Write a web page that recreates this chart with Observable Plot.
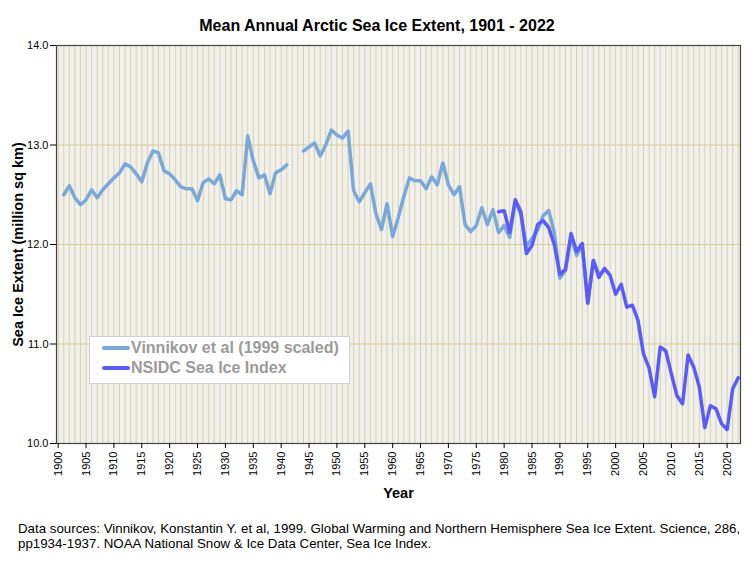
<!DOCTYPE html>
<html><head><meta charset="utf-8">
<script src="https://cdn.jsdelivr.net/npm/d3@7"></script>
<script src="https://cdn.jsdelivr.net/npm/@observablehq/plot@0.6"></script>
<style>
body{margin:0;background:#fff;font-family:"Liberation Sans",Arial,sans-serif;}
#wrap{position:relative;width:754px;height:564px;overflow:hidden;}
#title{position:absolute;top:16px;left:0;width:754px;text-align:center;font-weight:bold;font-size:16px;line-height:20px;color:#000;}
#chart{position:absolute;top:38px;left:0;}
#caption{position:absolute;left:18px;top:521px;font-size:13.3px;line-height:15px;width:740px;color:#000;white-space:nowrap;}
#legend{position:absolute;left:89px;top:336px;width:261px;height:48px;background:#fff;border:1px solid #d0d0d0;box-sizing:border-box;}
#legend .item{position:absolute;left:0;height:20px;line-height:20px;font-weight:bold;font-size:16px;color:#9a9a9a;white-space:nowrap;}
#legend .sw{position:absolute;left:12px;top:8px;width:28px;height:3.5px;border-radius:2px;}
#legend .lab{position:absolute;left:41px;top:0;}
#chart g[aria-label="x-axis label"], #chart g[aria-label="y-axis label"]{font-weight:bold;font-size:14.5px;}
</style>
</head><body>
<div id="wrap">
  <div id="title">Mean Annual Arctic Sea Ice Extent, 1901 - 2022</div>
  <div id="chart"></div>
  <div id="legend"></div>
  <div id="caption">Data sources: Vinnikov, Konstantin Y. et al, 1999. Global Warming and Northern Hemisphere Sea Ice Extent. Science, 286,<br>pp1934-1937. NOAA National Snow &amp; Ice Data Center, Sea Ice Index.</div>
</div>
<script>
// Vinnikov et al (1999, scaled), 1901-1998 (1942-1943 missing)
const vinnikovYears = [
  1901,1902,1903,1904,1905,1906,1907,1908,1909,1910,
  1911,1912,1913,1914,1915,1916,1917,1918,1919,1920,
  1921,1922,1923,1924,1925,1926,1927,1928,1929,1930,
  1931,1932,1933,1934,1935,1936,1937,1938,1939,1940,
  1941,1942,1943,1944,1945,1946,1947,1948,1949,1950,
  1951,1952,1953,1954,1955,1956,1957,1958,1959,1960,
  1961,1962,1963,1964,1965,1966,1967,1968,1969,1970,
  1971,1972,1973,1974,1975,1976,1977,1978,1979,1980,
  1981,1982,1983,1984,1985,1986,1987,1988,1989,1990,
  1991,1992,1993,1994,1995,1996,1997,1998];
const vinnikovValues = [
  12.50,12.59,12.47,12.40,12.45,12.55,12.47,12.55,12.61,12.67,
  12.72,12.81,12.78,12.71,12.63,12.82,12.94,12.92,12.74,12.71,
  12.65,12.58,12.56,12.56,12.44,12.62,12.66,12.61,12.70,12.46,
  12.45,12.54,12.50,13.09,12.84,12.67,12.70,12.51,12.72,12.75,
  12.80,null,null,12.94,12.98,13.02,12.89,13.00,13.15,13.10,
  13.07,13.14,12.54,12.43,12.52,12.61,12.31,12.15,12.41,12.08,
  12.27,12.48,12.67,12.64,12.64,12.56,12.68,12.60,12.82,12.60,
  12.50,12.58,12.20,12.13,12.19,12.37,12.20,12.35,12.12,12.19,
  12.07,12.44,12.30,11.98,12.06,12.14,12.29,12.34,12.12,11.66,
  11.74,12.08,11.89,12.00,11.42,11.84,11.70,11.74];
// NSIDC Sea Ice Index, 1979-2022
const nsidcYears = [
  1979,1980,1981,1982,1983,1984,1985,1986,1987,1988,
  1989,1990,1991,1992,1993,1994,1995,1996,1997,1998,
  1999,2000,2001,2002,2003,2004,2005,2006,2007,2008,
  2009,2010,2011,2012,2013,2014,2015,2016,2017,2018,
  2019,2020,2021,2022];
const nsidcValues = [
  12.33,12.34,12.12,12.45,12.33,11.91,11.99,12.20,12.24,12.17,
  12.00,11.70,11.75,12.11,11.93,12.01,11.41,11.84,11.67,11.76,
  11.69,11.50,11.60,11.37,11.39,11.24,10.90,10.76,10.47,10.97,
  10.93,10.70,10.48,10.40,10.89,10.77,10.57,10.16,10.38,10.35,
  10.20,10.14,10.55,10.66];
const seriesNames = ["Vinnikov et al (1999 scaled)", "NSIDC Sea Ice Index"];
const seriesColors = ["#7ba8d9", "#5b5bfb"];
const xTicks = [1900,1905,1910,1915,1920,1925,1930,1935,1940,1945,1950,1955,1960,1965,1970,1975,1980,1985,1990,1995,2000,2005,2010,2015,2020];
const yTicks = [10,11,12,13,14];
const gridYears = d3.range(1900, 2023);
const gridValues = [11,12,13];

const vin = vinnikovYears.map((y,i)=>({year:y, value:vinnikovValues[i]}));
const nsidc = nsidcYears.map((y,i)=>({year:y, value:nsidcValues[i]}));

const chart = Plot.plot({
  width: 754,
  height: 467,
  marginTop: 7,
  marginBottom: 62,
  marginLeft: 56,
  marginRight: 14,
  style: {fontFamily: '"Liberation Sans", Arial, sans-serif', fontSize: "11px", color: "#000", background: "transparent"},
  x: {domain: [1899.7, 2022.4]},
  y: {domain: [10, 14]},
  marks: [
    Plot.frame({fill: "#f0f0f0", stroke: null}),
    Plot.ruleX(gridYears, {stroke: "#dbd39c", strokeWidth: 1}),
    Plot.ruleY(gridValues, {stroke: "#d8cf94", strokeWidth: 1}),
    Plot.line(vin, {x: "year", y: "value", stroke: seriesColors[0], strokeWidth: 3.5, strokeLinejoin: "round", strokeLinecap: "round"}),
    Plot.line(nsidc, {x: "year", y: "value", stroke: seriesColors[1], strokeWidth: 3.5, strokeLinejoin: "round", strokeLinecap: "round"}),
    Plot.frame({stroke: "#444", strokeWidth: 1.2}),
    Plot.axisX({ticks: xTicks, tickFormat: d => String(d), tickRotate: -90, tickSize: 5, tickPadding: 3, fontSize: 11,
      label: "Year", labelAnchor: "center", labelOffset: 54, labelArrow: "none"}),
    Plot.axisY({ticks: yTicks, tickFormat: d3.format(".1f"), tickSize: 6, tickPadding: 2, fontSize: 11,
      label: "Sea Ice Extent (million sq km)", labelAnchor: "center", labelOffset: 44, labelArrow: "none"})
  ]
});
document.getElementById("chart").appendChild(chart);

const legend = document.getElementById("legend");
seriesNames.forEach((name, i) => {
  const item = document.createElement("div");
  item.className = "item";
  item.style.top = (1 + i * 20) + "px";
  item.style.width = "100%";
  const sw = document.createElement("span");
  sw.className = "sw";
  sw.style.background = seriesColors[i];
  const lab = document.createElement("span");
  lab.className = "lab";
  lab.textContent = name;
  item.appendChild(sw); item.appendChild(lab);
  legend.appendChild(item);
});
</script>
</body></html>
